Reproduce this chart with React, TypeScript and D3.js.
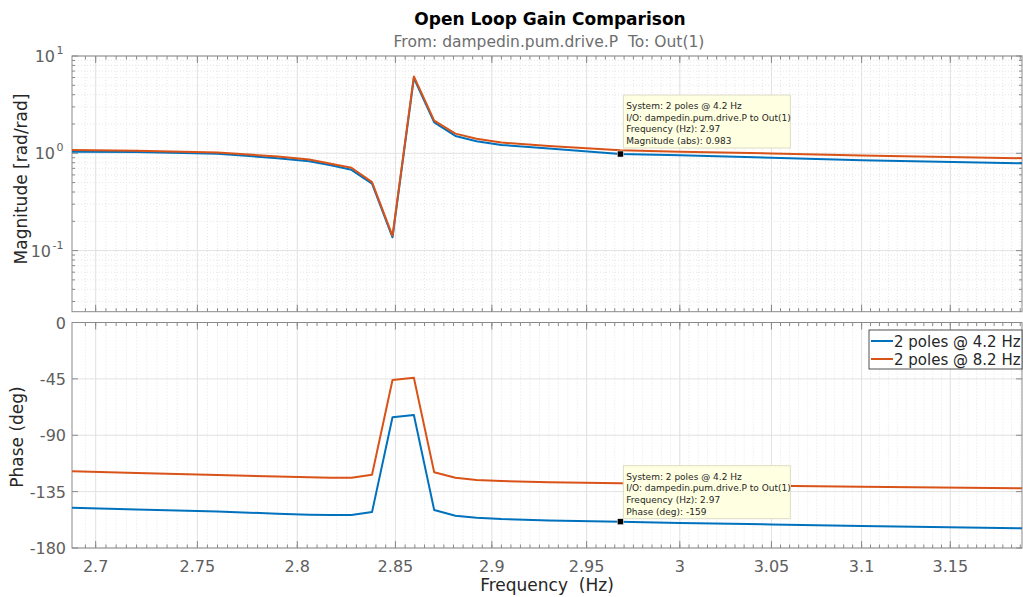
import * as d3 from 'd3';

// frequency points (Hz) shared by both responses
const freqHz = [2.6885, 2.72, 2.76, 2.79, 2.806, 2.817, 2.8275, 2.838, 2.8485, 2.8595, 2.87, 2.881, 2.892, 2.905, 2.93, 2.968, 3.0, 3.05, 3.1, 3.191];

// magnitude (abs)
const mag42 = [1.04, 1.03, 0.99, 0.89, 0.83, 0.754, 0.676, 0.488, 0.137, 5.92, 2.08, 1.508, 1.33, 1.22, 1.12, 0.983, 0.955, 0.9, 0.85, 0.79];
const mag82 = [1.083, 1.065, 1.02, 0.925, 0.865, 0.78, 0.71, 0.506, 0.142, 6.17, 2.17, 1.594, 1.41, 1.29, 1.19, 1.075, 1.04, 0.995, 0.948, 0.89];

// phase (deg)
const phase42 = [-147.8, -149.3, -150.9, -152.6, -153.4, -153.7, -153.7, -151.3, -75.7, -73.8, -149.7, -154.2, -155.8, -156.9, -158.0, -159, -160.0, -161.2, -162.4, -164.3];
const phase82 = [-118.8, -120.2, -121.8, -123.0, -123.6, -123.9, -123.9, -121.5, -45.9, -44.1, -119.6, -123.9, -125.7, -126.6, -127.6, -128.4, -129.2, -130.3, -131.2, -132.3];

const seriesNames = ['2 poles @ 4.2 Hz', '2 poles @ 8.2 Hz'];
const seriesColors = ['#0072BD', '#D95319'];

const xTicks = [2.7, 2.75, 2.8, 2.85, 2.9, 2.95, 3.0, 3.05, 3.1, 3.15];
const xTickLabels = ['2.7', '2.75', '2.8', '2.85', '2.9', '2.95', '3', '3.05', '3.1', '3.15'];
const magDecades = [-1, 0, 1];
const phaseTicks = [0, -45, -90, -135, -180];

// data tip
const tipFreq = 2.968;
const tipMag = 0.983;
const tipPhase = -159;

const FONT = 'DejaVu Sans, sans-serif';
const AXIS = '#8a8a8a';
const TXT = '#262626';
const TICKTXT = '#5e5e5e';
const GRID = '#e2e2e2';
const MINOR = '#e6e6e6';

const left = 72;
const right = 1022;
const magTop = 56;
const magBottom = 311.7;
const phTop = 322.5;
const phBottom = 548;

export default function App() {
  const x = d3.scaleLog().domain([2.6885, 3.191]).range([left, right]);
  const yMag = d3.scaleLog().domain([Math.pow(10, -1.628), 10]).range([magBottom, magTop]);
  const yPh = d3.scaleLinear().domain([-180, 0]).range([phBottom, phTop]);

  const xMinor = d3.range(539, 639).map((k) => k / 200).filter((v) => v > 2.6885 && v < 3.191);
  const magMinor: number[] = [];
  [-2, -1, 0].forEach((e) => {
    for (let m = 2; m <= 9; m++) {
      const v = m * Math.pow(10, e);
      if (v > yMag.domain()[0] && v < 10) magMinor.push(v);
    }
  });

  const magLine = (vals: number[]) =>
    d3.line<number>().x((_, i) => x(freqHz[i])).y((d) => yMag(d))(vals) || '';
  const phLine = (vals: number[]) =>
    d3.line<number>().x((_, i) => x(freqHz[i])).y((d) => yPh(d))(vals) || '';

  const frame = (top: number, bottom: number, key: string, yTicksMajor: number[], yTicksMinor: number[], yScale: (v: number) => number) => (
    <g key={key}>
      {xMinor.map((v) => (
        <line key={'xm' + v} x1={x(v)} x2={x(v)} y1={top} y2={bottom} stroke={MINOR} strokeDasharray="1,2" />
      ))}
      {yTicksMinor.map((v) => (
        <line key={'ym' + v} x1={left} x2={right} y1={yScale(v)} y2={yScale(v)} stroke={MINOR} strokeDasharray="1,2" />
      ))}
      {xTicks.map((v) => (
        <line key={'xg' + v} x1={x(v)} x2={x(v)} y1={top} y2={bottom} stroke={GRID} />
      ))}
      {yTicksMajor.map((v) => (
        <line key={'yg' + v} x1={left} x2={right} y1={yScale(v)} y2={yScale(v)} stroke={GRID} />
      ))}
      {/* inward ticks */}
      {xMinor.map((v) => (
        <g key={'xt' + v}>
          <line x1={x(v)} x2={x(v)} y1={bottom} y2={bottom - 3.5} stroke={AXIS} />
          <line x1={x(v)} x2={x(v)} y1={top} y2={top + 3.5} stroke={AXIS} />
        </g>
      ))}
      {xTicks.map((v) => (
        <g key={'xT' + v}>
          <line x1={x(v)} x2={x(v)} y1={bottom} y2={bottom - 7} stroke={AXIS} />
          <line x1={x(v)} x2={x(v)} y1={top} y2={top + 7} stroke={AXIS} />
        </g>
      ))}
      {yTicksMinor.map((v) => (
        <g key={'yt' + v}>
          <line x1={left} x2={left + 3} y1={yScale(v)} y2={yScale(v)} stroke={AXIS} />
          <line x1={right} x2={right - 3} y1={yScale(v)} y2={yScale(v)} stroke={AXIS} />
        </g>
      ))}
      {yTicksMajor.map((v) => (
        <g key={'yT' + v}>
          <line x1={left} x2={left + 6} y1={yScale(v)} y2={yScale(v)} stroke={AXIS} />
          <line x1={right} x2={right - 6} y1={yScale(v)} y2={yScale(v)} stroke={AXIS} />
        </g>
      ))}
      <rect x={left} y={top} width={right - left} height={bottom - top} fill="none" stroke={AXIS} />
    </g>
  );

  const mx = x(tipFreq);
  const myMag = yMag(tipMag);
  const myPh = yPh(tipPhase);

  const tip = (bx: number, by: number, lines: string[]) => (
    <g>
      <rect x={bx} y={by} width={167} height={53} fill="#ffffe1" stroke="#dcdcc4" />
      {lines.map((t, i) => (
        <text key={i} x={bx + 3} y={by + 14 + i * 11.7} fontSize={9} fill={TXT} fontFamily={FONT}>
          {t}
        </text>
      ))}
    </g>
  );

  return (
    <svg
      width={1023}
      height={597}
      style={{ position: 'absolute', left: 0, top: 0, background: '#fff' }}
      fontFamily={FONT}
    >
      <defs>
        <clipPath id="clipMag">
          <rect x={left} y={magTop} width={right - left} height={magBottom - magTop} />
        </clipPath>
        <clipPath id="clipPh">
          <rect x={left} y={phTop} width={right - left} height={phBottom - phTop} />
        </clipPath>
      </defs>
      <rect x={0} y={0} width={1023} height={597} fill="#fff" />

      <text x={550} y={25} textAnchor="middle" fontSize={17} fontWeight="bold" fill="#000">
        Open Loop Gain Comparison
      </text>
      <text x={549} y={47} textAnchor="middle" fontSize={15.5} fill="#6e6e6e" style={{ whiteSpace: 'pre' }}>
        From: dampedin.pum.drive.P  To: Out(1)
      </text>

      {frame(magTop, magBottom, 'mag', magDecades.map((e) => Math.pow(10, e)), magMinor, yMag)}
      {frame(phTop, phBottom, 'ph', phaseTicks, [], yPh)}

      {/* magnitude tick labels */}
      {magDecades.map((e) => (
        <text key={'ml' + e} x={e < 0 ? 51 : 55} y={yMag(Math.pow(10, e)) + 6} textAnchor="end" fontSize={16} fill={TICKTXT}>
          10
          <tspan fontSize={11} dy={-8} x={63.5} textAnchor="end">{String(e)}</tspan>
        </text>
      ))}
      {phaseTicks.map((v) => (
        <text key={'pl' + v} x={66} y={yPh(v) + 6} textAnchor="end" fontSize={16} fill={TICKTXT}>
          {v}
        </text>
      ))}
      {xTicks.map((v, i) => (
        <text key={'xl' + v} x={x(v)} y={572} textAnchor="middle" fontSize={16} fill={TICKTXT}>
          {xTickLabels[i]}
        </text>
      ))}

      <text transform="translate(27,179) rotate(-90)" textAnchor="middle" fontSize={17} fill={TXT}>
        Magnitude [rad/rad]
      </text>
      <text transform="translate(23,437) rotate(-90)" textAnchor="middle" fontSize={17} fill={TXT}>
        Phase (deg)
      </text>
      <text x={547} y={591} textAnchor="middle" fontSize={17} fill={TXT} style={{ whiteSpace: 'pre' }}>
        Frequency  (Hz)
      </text>

      <g clipPath="url(#clipMag)" fill="none" strokeWidth={2} strokeLinejoin="round">
        <path d={magLine(mag42)} stroke={seriesColors[0]} />
        <path d={magLine(mag82)} stroke={seriesColors[1]} />
      </g>
      <g clipPath="url(#clipPh)" fill="none" strokeWidth={2} strokeLinejoin="round">
        <path d={phLine(phase42)} stroke={seriesColors[0]} />
        <path d={phLine(phase82)} stroke={seriesColors[1]} />
      </g>

      {/* legend */}
      <g>
        <rect x={869} y={330} width={153} height={39} fill="#fff" stroke={TXT} strokeWidth={0.8} />
        {seriesNames.map((n, i) => (
          <g key={n}>
            <line x1={871} x2={893} y1={341 + i * 18} y2={341 + i * 18} stroke={seriesColors[i]} strokeWidth={2} />
            <text x={894} y={346.5 + i * 18} fontSize={15} fill={TXT}>
              {n}
            </text>
          </g>
        ))}
      </g>

      {/* data tips */}
      {tip(mx + 3, myMag - 59, [
        'System: 2 poles @ 4.2 Hz',
        'I/O: dampedin.pum.drive.P to Out(1)',
        'Frequency (Hz): 2.97',
        'Magnitude (abs): 0.983',
      ])}
      <rect x={mx - 3} y={myMag - 3} width={6} height={6} fill="#000" stroke="#fff" strokeWidth={0.5} />
      {tip(mx + 3, myPh - 56, [
        'System: 2 poles @ 4.2 Hz',
        'I/O: dampedin.pum.drive.P to Out(1)',
        'Frequency (Hz): 2.97',
        'Phase (deg): -159',
      ])}
      <rect x={mx - 3} y={myPh - 3} width={6} height={6} fill="#000" stroke="#fff" strokeWidth={0.5} />
    </svg>
  );
}
